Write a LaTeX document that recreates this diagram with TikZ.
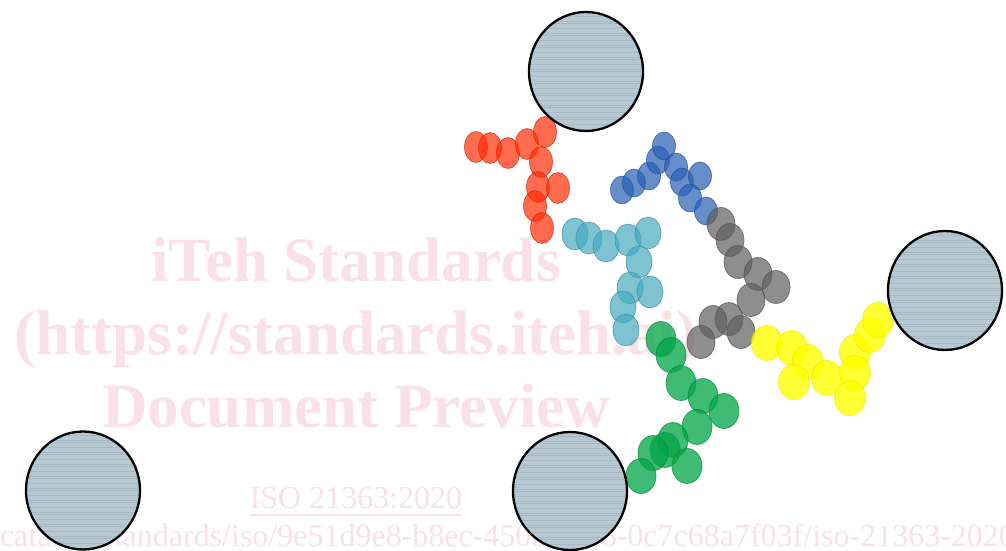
\documentclass[tikz,border=0pt]{standalone}
\usepackage{fontspec}
\setmainfont{Liberation Serif}
\usetikzlibrary{shapes.geometric}
\definecolor{wm}{RGB}{250,225,232}
\definecolor{disk}{RGB}{182,200,210}
\definecolor{streak}{RGB}{140,165,180}
\definecolor{cred}{RGB}{255,45,5}
\definecolor{cblue}{RGB}{40,95,180}
\definecolor{ccyan}{RGB}{70,170,192}
\definecolor{cgray}{RGB}{95,95,95}
\definecolor{cgreen}{RGB}{0,165,70}
\definecolor{cyellow}{RGB}{255,255,0}
\tikzset{
  bead/.style={ellipse, inner sep=0pt, line width=0.7pt, fill opacity=0.7, draw opacity=0.75},
  redbead/.style={bead, minimum width=23pt, minimum height=31pt, fill=cred, draw=cred!85!black},
  bluebead/.style={bead, minimum width=23pt, minimum height=28pt, fill=cblue, draw=cblue!85!black},
  cyanbead/.style={bead, minimum width=26pt, minimum height=32pt, fill=ccyan, draw=ccyan!85!black},
  graybead/.style={bead, minimum width=28pt, minimum height=33pt, fill=cgray, draw=cgray!85!black},
  greenbead/.style={bead, minimum width=30pt, minimum height=35pt, fill=cgreen, draw=cgreen!85!black, fill opacity=0.75},
  yellowbead/.style={bead, minimum width=31pt, minimum height=35pt, fill=cyellow, draw=cyellow!92!black, fill opacity=0.8},
  bigdisk/.style={ellipse, inner sep=0pt, minimum width=114pt, minimum height=119pt, fill=disk, draw=black, line width=2.3pt,
    path picture={
      \foreach \k in {0,...,29}{
        \pgfmathsetmacro\yy{-58+4*\k+mod(\k*7,3)}
        \draw[streak, opacity=0.35, line width=0.6pt]
          ([xshift=-60pt,yshift=\yy pt]path picture bounding box.center) -- ++(120pt,0);
      }
    }},
  wmbig/.style={text=wm, font=\bfseries\fontsize{63}{70}\selectfont, inner sep=0pt, anchor=base},
  wmsmall/.style={text=wm, font=\fontsize{32}{36}\selectfont, inner sep=0pt, anchor=base}
}
\begin{document}
\begin{tikzpicture}[x=1pt,y=-1pt]
\useasboundingbox (0,0) rectangle (1006,551);
\clip (0,0) rectangle (1006,551);
\fill[white] (0,0) rectangle (1006,551);
% watermark
\node[wmbig] (wm1) at (356,281) {iTeh Standards};
\node[wmbig] (wm2) at (356,354) {(https://standards.iteh.ai)};
\node[wmbig] (wm3) at (356,427) {Document Preview};
\node[wmsmall] (iso) at (356,508) {ISO 21363:2020};
\draw[wm, line width=1.6pt] ([yshift=-7pt]iso.base west) -- ([yshift=-7pt]iso.base east);
\node[wmsmall] (url) at (503,546) {/catalog/standards/iso/9e51d9e8-b8ec-450b-8f98-0c7c68a7f03f/iso-21363-2020};
% chains
\foreach \px/\py [count=\i] in {476/147,490/148,508/153,527/144,545/132,541/162,538/187,558/188,535/206,542/228}
  \node[redbead] (r\i) at (\px,\py) {};
\foreach \px/\py [count=\i] in {622/190,634/183,649/176,658/160,664/146,676/167,682/182,700/176,690/198,706/211}
  \node[bluebead] (b\i) at (\px,\py) {};
\foreach \px/\py [count=\i] in {575/234,589/238,606/246,628/240,648/233,639/262,630/288,650/292,623/307,626/330}
  \node[cyanbead] (c\i) at (\px,\py) {};
\foreach \px/\py [count=\i] in {721/224,730/240,738/262,758/274,776/287,751/300,729/319,713/322,741/332,701/342}
  \node[graybead] (g\i) at (\px,\py) {};
\foreach \px/\py [count=\i] in {661/339,671/355,681/383,703/396,724/411,697/427,673/440,665/450,653/453,687/466,641/476}
  \node[greenbead] (n\i) at (\px,\py) {};
\foreach \px/\py [count=\i] in {767/343,792/348,808/362,794/382,827/378,855/352,855/373,850/398,870/335,878/320}
  \node[yellowbead] (y\i) at (\px,\py) {};
% big disks
\node[bigdisk] (d1) at (586,71.5) {};
\node[bigdisk] (d2) at (945,290.5) {};
\node[bigdisk, minimum height=118pt] (d3) at (83,490.5) {};
\node[bigdisk, minimum height=118pt] (d4) at (570,491) {};
\end{tikzpicture}
\end{document}
